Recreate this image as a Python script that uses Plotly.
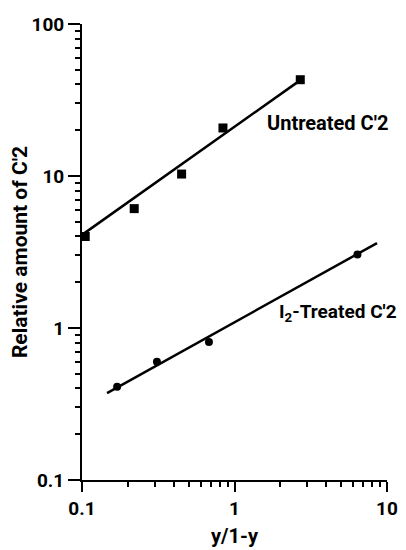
import plotly.graph_objects as go

# Data
untreated_x = [0.105, 0.22, 0.45, 0.84, 2.7]
untreated_y = [4.0, 6.1, 10.3, 20.7, 43.0]
treated_x = [0.17, 0.31, 0.68, 6.4]
treated_y = [0.41, 0.60, 0.81, 3.05]

untreated_fit_x = [0.1, 2.55]
untreated_fit_y = [4.1, 41.0]
treated_fit_x = [0.146, 8.6]
treated_fit_y = [0.373, 3.62]

x_tickvals = [0.1, 1, 10]
x_ticktext = ["0.1", "1", "10"]
y_tickvals = [0.1, 1, 10, 100]
y_ticktext = ["0.1", "1", "10", "100"]

FONT = "Roboto"

def bold(size):
    return dict(family=FONT, size=size, color="black", weight="bold")

fig = go.Figure()
fig.add_trace(go.Scatter(x=untreated_fit_x, y=untreated_fit_y, mode="lines",
                         line=dict(color="black", width=2.5), showlegend=False))
fig.add_trace(go.Scatter(x=treated_fit_x, y=treated_fit_y, mode="lines",
                         line=dict(color="black", width=2.5), showlegend=False))
fig.add_trace(go.Scatter(x=untreated_x, y=untreated_y, mode="markers",
                         marker=dict(symbol="square", size=9, color="black"),
                         showlegend=False, cliponaxis=False))
fig.add_trace(go.Scatter(x=treated_x, y=treated_y, mode="markers",
                         marker=dict(symbol="circle", size=8, color="black"),
                         showlegend=False, cliponaxis=False))

fig.add_annotation(x=0.2, y=1.349, xref="x", yref="y", text="Untreated C'2",
                   showarrow=False, xanchor="left", yanchor="middle", font=bold(20))
fig.add_annotation(x=0.279, y=0.099, xref="x", yref="y", text="I<sub>2</sub>-Treated C'2",
                   showarrow=False, xanchor="left", yanchor="middle", font=bold(19))

minor_style = dict(ticks="outside", ticklen=5, tickwidth=2, tickcolor="black",
                   dtick="D1", showgrid=False)

fig.update_xaxes(type="log", range=[-1, 1], showline=True, linecolor="black", linewidth=2,
                 showgrid=False, zeroline=False, ticks="outside", ticklen=10, tickwidth=2,
                 tickcolor="black", tickmode="array", tickvals=x_tickvals, ticktext=x_ticktext,
                 tickfont=bold(19), automargin=False, minor=minor_style,
                 title=dict(text="y/1-y", font=bold(20), standoff=10))
fig.update_yaxes(type="log", range=[-1, 2], showline=True, linecolor="black", linewidth=2,
                 showgrid=False, zeroline=False, ticks="outside", ticklen=12, tickwidth=2,
                 tickcolor="black", tickmode="array", tickvals=y_tickvals, ticktext=y_ticktext,
                 tickfont=bold(19), automargin=False, minor=minor_style,
                 title=dict(text="Relative amount of C'2", font=bold(21), standoff=12))

# The page body adds an 8px offset, so the figure is sized to fit the window.
fig.update_layout(width=398, height=542, margin=dict(l=74, r=19, t=16, b=70),
                  plot_bgcolor="white", paper_bgcolor="white", showlegend=False)

fig.write_html("out.html")
